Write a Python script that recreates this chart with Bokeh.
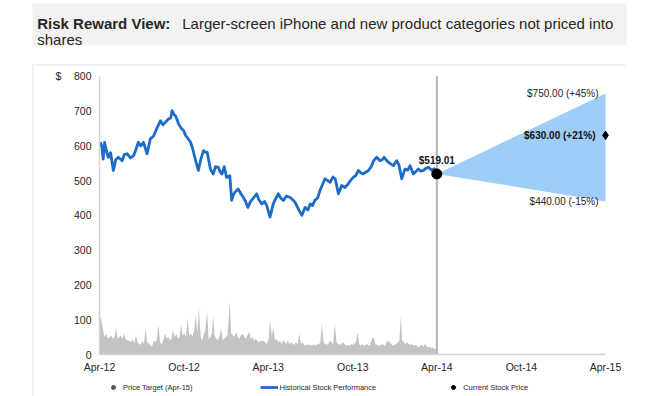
import pandas as pd
from bokeh.plotting import figure
from bokeh.models import (Range1d, FixedTicker, DatetimeTickFormatter, Label,
                          Legend, LegendItem, ColumnDataSource, BoxAnnotation)
from bokeh.embed import file_html
from bokeh.resources import INLINE
from bokeh.core.properties import value

FONT = "Liberation Sans"

# ---------------- data ----------------
title_bold = "Risk Reward View:"
title_rest = "Larger-screen iPhone and new product categories not priced into"
title_line2 = "shares"

price_dates = [
    "2012-04-03", "2012-04-06", "2012-04-09", "2012-04-12", "2012-04-16", "2012-04-20", "2012-04-25",
    "2012-05-01", "2012-05-06", "2012-05-12", "2012-05-20", "2012-05-25", "2012-05-31", "2012-06-07",
    "2012-06-14", "2012-06-19", "2012-06-24", "2012-06-29", "2012-07-05", "2012-07-13", "2012-07-20",
    "2012-07-27", "2012-08-04", "2012-08-11", "2012-08-16", "2012-08-22", "2012-08-28", "2012-09-02",
    "2012-09-05", "2012-09-09", "2012-09-12", "2012-09-16", "2012-09-19", "2012-09-25", "2012-09-30",
    "2012-10-04", "2012-10-08", "2012-10-15", "2012-10-20", "2012-10-26", "2012-11-01", "2012-11-06",
    "2012-11-12", "2012-11-16", "2012-11-20", "2012-11-27", "2012-12-03", "2012-12-08", "2012-12-14",
    "2012-12-18", "2012-12-22", "2012-12-27", "2013-01-01", "2013-01-08", "2013-01-12", "2013-01-16",
    "2013-01-19", "2013-01-26", "2013-02-01", "2013-02-06", "2013-02-11", "2013-02-16", "2013-02-22",
    "2013-02-27", "2013-03-07", "2013-03-12", "2013-03-18", "2013-03-24", "2013-03-29", "2013-04-05",
    "2013-04-12", "2013-04-18", "2013-04-23", "2013-04-28", "2013-05-04", "2013-05-10", "2013-05-18",
    "2013-05-24", "2013-05-29", "2013-06-05", "2013-06-13", "2013-06-20", "2013-06-26", "2013-07-01",
    "2013-07-06", "2013-07-11", "2013-07-17", "2013-07-22", "2013-07-28", "2013-08-02", "2013-08-08",
    "2013-08-13", "2013-08-19", "2013-08-24", "2013-08-31", "2013-09-07", "2013-09-14", "2013-09-21",
    "2013-09-26", "2013-10-02", "2013-10-08", "2013-10-13", "2013-10-19", "2013-10-24", "2013-10-29",
    "2013-11-04", "2013-11-10", "2013-11-15", "2013-11-22", "2013-11-29", "2013-12-04", "2013-12-08",
    "2013-12-13", "2013-12-17", "2013-12-22", "2013-12-28", "2014-01-04", "2014-01-09", "2014-01-15",
    "2014-01-22", "2014-01-28", "2014-02-02", "2014-02-09", "2014-02-14", "2014-02-20", "2014-02-25",
    "2014-03-03", "2014-03-08", "2014-03-14", "2014-03-21", "2014-03-26", "2014-04-01",
]
price_values = [
    610, 598, 562, 610, 585, 567, 580,
    529, 560, 567, 557, 575, 577, 565,
    572, 590, 610, 600, 610, 577, 620,
    628, 653, 672, 660, 668, 677, 680,
    701, 690, 687, 675, 663, 650, 644,
    630, 624, 610, 590, 557, 529, 560,
    586, 582, 581, 533, 519, 540, 538,
    525, 519, 540, 509, 514, 443, 460,
    466, 476, 462, 452, 440, 423, 440,
    448, 462, 445, 433, 440, 428, 395,
    433, 450, 462, 450, 443, 455, 452,
    445, 438, 419, 400, 423, 415, 433,
    428, 443, 450, 471, 490, 505, 500,
    495, 510, 505, 462, 486, 480, 490,
    500, 509, 515, 529, 522, 519, 524,
    529, 540, 557, 567, 557, 560, 567,
    558, 553, 548, 543, 557, 545, 505,
    533, 530, 543, 519, 525, 533, 527,
    529, 535, 538, 529, 534, 519.01,
]

volume_dates = [
    "2012-04-02", "2012-04-05", "2012-04-09", "2012-04-12", "2012-04-16", "2012-04-19", "2012-04-23",
    "2012-04-26", "2012-04-30", "2012-05-03", "2012-05-07", "2012-05-10", "2012-05-14", "2012-05-17",
    "2012-05-21", "2012-05-24", "2012-05-29", "2012-06-01", "2012-06-05", "2012-06-08", "2012-06-12",
    "2012-06-15", "2012-06-19", "2012-06-22", "2012-06-26", "2012-06-29", "2012-07-03", "2012-07-06",
    "2012-07-10", "2012-07-13", "2012-07-17", "2012-07-20", "2012-07-24", "2012-07-27", "2012-07-31",
    "2012-08-03", "2012-08-07", "2012-08-10", "2012-08-14", "2012-08-17", "2012-08-21", "2012-08-24",
    "2012-08-28", "2012-08-31", "2012-09-04", "2012-09-07", "2012-09-11", "2012-09-14", "2012-09-18",
    "2012-09-21", "2012-09-25", "2012-09-28", "2012-10-02", "2012-10-05", "2012-10-09", "2012-10-12",
    "2012-10-16", "2012-10-19", "2012-10-23", "2012-10-26", "2012-10-30", "2012-11-02", "2012-11-06",
    "2012-11-09", "2012-11-13", "2012-11-16", "2012-11-20", "2012-11-23", "2012-11-27", "2012-11-30",
    "2012-12-03", "2012-12-06", "2012-12-10", "2012-12-13", "2012-12-17", "2012-12-20", "2012-12-24",
    "2012-12-27", "2012-12-31", "2013-01-03", "2013-01-08", "2013-01-11", "2013-01-15", "2013-01-18",
    "2013-01-22", "2013-01-25", "2013-01-29", "2013-02-01", "2013-02-05", "2013-02-08", "2013-02-12",
    "2013-02-15", "2013-02-19", "2013-02-22", "2013-02-26", "2013-03-01", "2013-03-05", "2013-03-08",
    "2013-03-12", "2013-03-15", "2013-03-19", "2013-03-22", "2013-03-26", "2013-03-29", "2013-04-02",
    "2013-04-05", "2013-04-09", "2013-04-12", "2013-04-16", "2013-04-19", "2013-04-23", "2013-04-26",
    "2013-04-30", "2013-05-03", "2013-05-07", "2013-05-10", "2013-05-14", "2013-05-17", "2013-05-21",
    "2013-05-24", "2013-05-28", "2013-05-31", "2013-06-04", "2013-06-07", "2013-06-11", "2013-06-14",
    "2013-06-18", "2013-06-21", "2013-06-25", "2013-06-28", "2013-07-02", "2013-07-05", "2013-07-09",
    "2013-07-12", "2013-07-16", "2013-07-19", "2013-07-23", "2013-07-26", "2013-07-30", "2013-08-02",
    "2013-08-06", "2013-08-09", "2013-08-13", "2013-08-16", "2013-08-20", "2013-08-23", "2013-08-27",
    "2013-08-30", "2013-09-03", "2013-09-06", "2013-09-10", "2013-09-13", "2013-09-17", "2013-09-20",
    "2013-09-24", "2013-09-27", "2013-10-01", "2013-10-04", "2013-10-08", "2013-10-11", "2013-10-15",
    "2013-10-18", "2013-10-22", "2013-10-25", "2013-10-29", "2013-11-01", "2013-11-05", "2013-11-08",
    "2013-11-12", "2013-11-15", "2013-11-19", "2013-11-22", "2013-11-26", "2013-11-29", "2013-12-03",
    "2013-12-06", "2013-12-10", "2013-12-13", "2013-12-17", "2013-12-20", "2013-12-24", "2013-12-27",
    "2013-12-31", "2014-01-03", "2014-01-07", "2014-01-10", "2014-01-13", "2014-01-16", "2014-01-20",
    "2014-01-23", "2014-01-27", "2014-01-30", "2014-02-03", "2014-02-06", "2014-02-10", "2014-02-13",
    "2014-02-17", "2014-02-20", "2014-02-24", "2014-02-27", "2014-03-03", "2014-03-06", "2014-03-10",
    "2014-03-13", "2014-03-17", "2014-03-20", "2014-03-24", "2014-03-27", "2014-04-01",
]
volume_values = [
    110, 100, 70, 50, 60, 45, 50,
    55, 45, 48, 75, 45, 50, 55,
    45, 60, 40, 42, 38, 35, 45,
    32, 55, 35, 30, 28, 40, 30,
    75, 35, 30, 28, 22, 40, 35,
    45, 85, 35, 30, 40, 60, 45,
    50, 40, 45, 70, 50, 60, 45,
    50, 85, 55, 60, 50, 105, 55,
    60, 50, 70, 115, 60, 135, 50,
    40, 60, 70, 125, 45, 50, 60,
    110, 55, 45, 40, 55, 75, 40,
    45, 50, 55, 152, 60, 55, 50,
    65, 50, 45, 55, 60, 50, 45,
    55, 65, 45, 50, 40, 45, 40,
    35, 40, 38, 40, 35, 30, 45,
    100, 50, 80, 40, 45, 35, 40,
    30, 40, 35, 30, 40, 30, 35,
    30, 28, 35, 30, 60, 30, 35,
    28, 25, 30, 25, 28, 25, 30,
    25, 30, 28, 35, 90, 35, 30,
    28, 30, 40, 35, 30, 90, 35,
    30, 28, 30, 35, 30, 25, 28,
    25, 30, 28, 30, 35, 65, 30,
    25, 30, 25, 28, 30, 25, 28,
    45, 50, 30, 28, 25, 25, 30,
    28, 25, 35, 40, 35, 30, 25,
    28, 30, 35, 40, 110, 40, 35,
    30, 35, 30, 28, 30, 25, 28,
    25, 20, 25, 28, 22, 30, 25,
    20, 22, 18, 20, 15, 18,
]

current_date = "2014-04-01"
current_price = 519.01
target_date = "2015-04-01"
target_high, target_mid, target_low = 750.00, 630.00, 440.00

y_ticks = [0, 100, 200, 300, 400, 500, 600, 700, 800]
x_tick_dates = ["2012-04-01", "2012-10-01", "2013-04-01", "2013-10-01",
                "2014-04-01", "2014-10-01", "2015-04-01"]
x_tick_labels = ["Apr-12", "Oct-12", "Apr-13", "Oct-13", "Apr-14", "Oct-14", "Apr-15"]

legend_labels = ["Price Target (Apr-15)", "Historical Stock Performance", "Current Stock Price"]


def ms(s):
    return pd.Timestamp(s).value / 1e6


def pct_label(v):
    pct = round((v / current_price - 1) * 100)
    sign = "+" if pct >= 0 else "-"
    return f"${v:,.2f} ({sign}{abs(pct)}%)"


# ---------------- layout geometry (pixels of the 660x396 canvas) ----------------
W, H = 660, 396
AX_LEFT, AX_RIGHT = 99, 605      # Apr-12 .. Apr-15
AX_TOP, AX_BOTTOM = 75.7, 354    # 800 .. 0
DAY = 86400000.0
ppd = (AX_RIGHT - AX_LEFT) / ((ms(x_tick_dates[-1]) - ms(x_tick_dates[0])) / DAY)
ppu = (AX_BOTTOM - AX_TOP) / (y_ticks[-1] - y_ticks[0])
x_start = ms(x_tick_dates[0]) - AX_LEFT / ppd * DAY
x_end = ms(x_tick_dates[-1]) + (W - AX_RIGHT) / ppd * DAY
y_start = y_ticks[0] - (H - AX_BOTTOM) / ppu
y_end = y_ticks[-1] + AX_TOP / ppu


def sx(px):
    return px


def sy(py):
    return H - py


p = figure(width=W, height=H, x_axis_type="datetime",
           x_range=Range1d(x_start, x_end), y_range=Range1d(y_start, y_end),
           toolbar_location=None, output_backend="svg", min_border=0)
p.grid.visible = False
p.outline_line_color = None
p.background_fill_color = "white"
p.border_fill_color = "white"


# title band and faint chart border
def screen_box(l, r, t, b, color):
    return BoxAnnotation(left=sx(l), right=sx(r), top=sy(t), bottom=sy(b),
                         left_units="screen", right_units="screen",
                         top_units="screen", bottom_units="screen",
                         fill_color=color, fill_alpha=1, line_color=None, level="underlay")


p.add_layout(screen_box(32, 626, 3, 45, "#f2f2f2"))
p.add_layout(screen_box(32, 625, 64, 65, "#e6e6e6"))
p.add_layout(screen_box(32, 33, 64, 396, "#e6e6e6"))

for txt, px, py, style in [(title_bold, 36.7, 22.7, "bold"),
                           (title_rest, 181.7, 22.7, "normal"),
                           (title_line2, 36.7, 39.3, "normal")]:
    p.add_layout(Label(x=sx(px), y=sy(py), x_units="screen", y_units="screen", text=txt,
                       text_align="left", text_baseline="alphabetic", text_font=FONT,
                       text_font_size="15px", text_font_style=style, text_color="#262626"))

vol_src = ColumnDataSource(dict(d=pd.to_datetime(volume_dates), v=volume_values))
p.varea(x="d", y1=0, y2="v", source=vol_src, fill_color="#c3c3c3")

p.segment(x0=pd.to_datetime([current_date]), y0=[y_ticks[0]],
          x1=pd.to_datetime([current_date]), y1=[y_ticks[-1]],
          line_color="#b3b3b3", line_width=2)

cone_x = pd.to_datetime([current_date, target_date, target_date])
cone_y = [current_price, target_high, target_low]
p.patch(x=cone_x, y=cone_y, fill_color="#9ecdf8", line_color=None)

price_src = ColumnDataSource(dict(d=pd.to_datetime(price_dates), v=price_values))
r_hist = p.line(x="d", y="v", source=price_src, line_color="#1d6cc8", line_width=2.8,
                line_join="round")

# small legend markers (hidden beneath the big markers)
r_pt = p.scatter(x=pd.to_datetime([target_date]), y=[target_mid], size=2.5, color="#555555")
r_cur = p.scatter(x=pd.to_datetime([current_date]), y=[current_price], size=3.5, color="black")

p.scatter(x=pd.to_datetime([current_date]), y=[current_price], size=10, color="black")
p.scatter(x=pd.to_datetime([target_date]), y=[target_mid], marker="diamond", size=8.5, color="black")

lab_src = ColumnDataSource(dict(d=pd.to_datetime([target_date, target_date]),
                                v=[target_high, target_low],
                                t=[pct_label(target_high), pct_label(target_low)]))
p.text(x="d", y="v", text="t", source=lab_src, text_align="right", text_baseline="middle",
       x_offset=-7, text_font=value(FONT), text_font_size="10px", text_color="#262626")
p.text(x=pd.to_datetime([target_date]), y=[target_mid], text=[pct_label(target_mid)],
       text_align="right", text_baseline="middle", x_offset=-10, text_font=value(FONT),
       text_font_size="10px", text_font_style="bold", text_color="#111111")
p.text(x=pd.to_datetime([current_date]), y=[current_price], text=[f"${current_price:.2f}"],
       text_align="center", text_baseline="middle", y_offset=-13, text_font=value(FONT),
       text_font_size="10px", text_font_style="bold", text_color="#111111")

p.add_layout(Label(x=sx(58), y=sy(75), x_units="screen", y_units="screen", text="$",
                   text_align="center", text_baseline="middle", text_font=FONT,
                   text_font_size="10.5px", text_color="#262626"))

# axes, pinned at the chart origin
p.yaxis.ticker = FixedTicker(ticks=y_ticks)
p.yaxis.fixed_location = ms(x_tick_dates[0])
p.yaxis.bounds = (y_ticks[0], y_ticks[-1])
p.xaxis.ticker = FixedTicker(ticks=[ms(d) for d in x_tick_dates])
p.xaxis.formatter = DatetimeTickFormatter(days="%b-%y", months="%b-%y", years="%b-%y")
p.xaxis.major_label_overrides = {ms(d): lab for d, lab in zip(x_tick_dates, x_tick_labels)}
p.xaxis.bounds = (ms(x_tick_dates[0]), ms(x_tick_dates[-1]))
p.xaxis.fixed_location = y_ticks[0]
for ax in (p.xaxis, p.yaxis):
    ax.axis_line_color = "#d4d4d4"
    ax.axis_line_width = 1.5
    ax.major_tick_line_color = None
    ax.minor_tick_line_color = None
    ax.major_tick_out = 0
    ax.major_tick_in = 0
    ax.minor_tick_out = 0
    ax.major_label_text_font = FONT
    ax.major_label_text_font_size = "10.5px"
    ax.major_label_text_color = "#262626"
p.yaxis.major_label_standoff = 8
p.xaxis.major_label_standoff = 6

# legend
legend = Legend(items=[LegendItem(label=legend_labels[0], renderers=[r_pt]),
                       LegendItem(label=legend_labels[1], renderers=[r_hist]),
                       LegendItem(label=legend_labels[2], renderers=[r_cur])],
                orientation="horizontal", location=(sx(104), sy(392)),
                label_text_font=FONT, label_text_font_size="7.5px", label_text_color="#262626",
                label_height=10, glyph_height=10, glyph_width=18, label_standoff=1,
                spacing=68, padding=2, margin=0,
                background_fill_alpha=0, border_line_color=None)
p.add_layout(legend, "center")

open("out.html", "w").write(file_html(p, INLINE))
